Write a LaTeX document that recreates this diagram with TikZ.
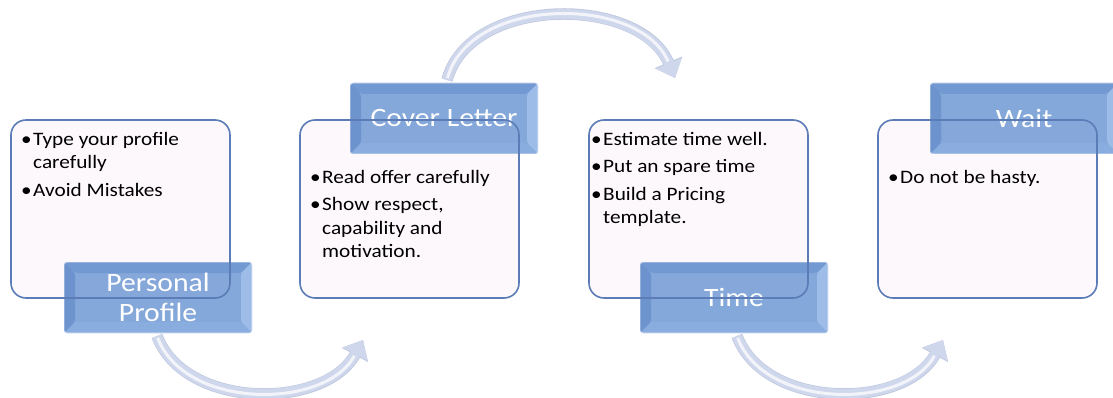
\documentclass[tikz,border=0pt]{standalone}
\usepackage{fontspec}
\setmainfont{Carlito}[FakeStretch=1.12]
\usetikzlibrary{arrows.meta,calc}
\definecolor{boxfill}{HTML}{FDF8FC}
\definecolor{boxline}{HTML}{5B7CB6}
\definecolor{lblc}{HTML}{7099D3}
\definecolor{lbltop}{HTML}{7097D1}
\definecolor{lblleft}{HTML}{6890CC}
\definecolor{lblright}{HTML}{A2C0EB}
\definecolor{lblbot}{HTML}{8BAEE0}
\definecolor{arrowc}{HTML}{CFD7EC}
\definecolor{arrowedge}{HTML}{C0C9DF}
\begin{document}
\begin{tikzpicture}[x=1pt,y=-1pt,
  tbox/.style={rectangle, rounded corners=15pt, fill=boxfill, minimum width=219pt, minimum height=178pt, inner sep=0pt, outer sep=0pt, anchor=north west},
  tborder/.style={draw=boxline, line width=1.6pt, rounded corners=15pt},
  lbl/.style={rectangle, rounded corners=3pt, fill=lblc, fill opacity=0.85, text opacity=1, text=white, minimum width=188pt, minimum height=71pt, inner sep=0pt, outer sep=0pt, anchor=north west, align=center, font=\fontsize{26.5}{30}\selectfont,
    path picture={
      \coordinate (NW) at (path picture bounding box.north west);
      \coordinate (NE) at (path picture bounding box.north east);
      \coordinate (SW) at (path picture bounding box.south west);
      \coordinate (SE) at (path picture bounding box.south east);
      \fill[lbltop, fill opacity=0.85] (NW) -- (NE) -- ($(NE)+(-11pt,-11pt)$) -- ($(NW)+(11pt,-11pt)$) -- cycle;
      \fill[lblleft, fill opacity=0.85] (NW) -- (SW) -- ($(SW)+(11pt,11pt)$) -- ($(NW)+(11pt,-11pt)$) -- cycle;
      \fill[lblright, fill opacity=0.85] (NE) -- (SE) -- ($(SE)+(-11pt,11pt)$) -- ($(NE)+(-11pt,-11pt)$) -- cycle;
      \fill[lblbot, fill opacity=0.85] (SW) -- (SE) -- ($(SE)+(-11pt,11pt)$) -- ($(SW)+(11pt,11pt)$) -- cycle;
      \draw[white, opacity=0.4, line width=1.2pt, rounded corners=3pt] (NW) rectangle (SE);
    }},
  body/.style={anchor=north west, align=left, inner sep=0pt, font=\fontsize{19}{23.5}\selectfont, text=black},
  flow/.style={line width=10pt, arrowc, -{Triangle[length=16pt,width=27pt]}},
  flowedge/.style={line width=11.5pt, arrowedge, -{Triangle[length=17pt,width=29pt]}},
  shine/.style={line width=3pt, white, opacity=0.75, shorten >=18pt, shorten <=2pt},
]
\clip (0,0) rectangle (1113,398);
\useasboundingbox (0,0) rectangle (1113,398);

% arrow end points
\coordinate (a1s) at (157,336);
\coordinate (a1e) at (363,340);
\coordinate (a2s) at (447,80);
\coordinate (a2e) at (675,78);
\coordinate (a3s) at (737,336);
\coordinate (a3e) at (943,340);

% arrows
\draw[flowedge] (a1s) .. controls (185,410) and (325,410) .. (a1e);
\draw[flow] (a1s) .. controls (185,410) and (325,410) .. (a1e);
\draw[shine] (a1s) .. controls (185,410) and (325,410) .. (a1e);
\draw[flowedge] (a2s) .. controls (470,-5) and (640,-5) .. (a2e);
\draw[flow] (a2s) .. controls (470,-5) and (640,-5) .. (a2e);
\draw[shine] (a2s) .. controls (470,-5) and (640,-5) .. (a2e);
\draw[flowedge] (a3s) .. controls (765,410) and (905,410) .. (a3e);
\draw[flow] (a3s) .. controls (765,410) and (905,410) .. (a3e);
\draw[shine] (a3s) .. controls (765,410) and (905,410) .. (a3e);

% text boxes
\node[tbox] (b1) at (11,120) {};
\node[tbox] (b2) at (300,120) {};
\node[tbox] (b3) at (589,120) {};
\node[tbox] (b4) at (878,120) {};

% label boxes
\node[lbl] (l1) at (64,262) {Personal\\Profile};
\node[lbl] (l2) at (350,83) {Cover Letter};
\node[lbl] (l3) at (640,262) {Time};
\node[lbl] (l4) at (930,83) {Wait};

% borders on top
\draw[tborder] (b1.north west) rectangle (b1.south east);
\draw[tborder] (b2.north west) rectangle (b2.south east);
\draw[tborder] (b3.north west) rectangle (b3.south east);
\draw[tborder] (b4.north west) rectangle (b4.south east);

% body texts
\node[body] (t1) at (21,132) {\makebox[12pt][l]{•}Type your profile\\\hspace*{12pt}carefully\\[4pt]\makebox[12pt][l]{•}Avoid Mistakes};
\node[body] (t2) at (310,170) {\makebox[12pt][l]{•}Read offer carefully\\[4pt]\makebox[12pt][l]{•}Show respect,\\\hspace*{12pt}capability and\\\hspace*{12pt}motivation.};
\node[body] (t3) at (591,132) {\makebox[12pt][l]{•}Estimate time well.\\[4pt]\makebox[12pt][l]{•}Put an spare time\\[4pt]\makebox[12pt][l]{•}Build a Pricing\\\hspace*{12pt}template.};
\node[body] (t4) at (888,170) {\makebox[12pt][l]{•}Do not be hasty.};
\end{tikzpicture}
\end{document}
